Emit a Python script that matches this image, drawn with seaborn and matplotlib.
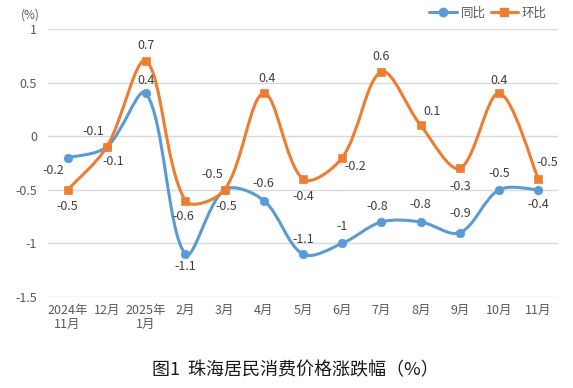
import numpy as np
import pandas as pd
import seaborn as sns
import matplotlib.pyplot as plt
from matplotlib.path import Path
from matplotlib.patches import PathPatch
from matplotlib.lines import Line2D

# data
months = ['2024年\n11月', '12月', '2025年\n1月', '2月', '3月', '4月', '5月',
          '6月', '7月', '8月', '9月', '10月', '11月']
yoy = [-0.2, -0.1, 0.4, -1.1, -0.5, -0.6, -1.1, -1.0, -0.8, -0.8, -0.9, -0.5, -0.5]
mom = [-0.5, -0.1, 0.7, -0.6, -0.5, 0.4, -0.4, -0.2, 0.6, 0.1, -0.3, 0.4, -0.4]
# label texts as printed on the chart
yoy_labels = ['-0.2', '-0.1', '0.4', '-1.1', '-0.5', '-0.6', '-1.1', '-1',
              '-0.8', '-0.8', '-0.9', '-0.5', '-0.4']
mom_labels = ['-0.5', '-0.1', '0.7', '-0.6', '-0.5', '0.4', '-0.4', '-0.2',
              '0.6', '0.1', '-0.3', '0.4', '-0.5']

# label offsets in pixels (dx, dy; dy positive = up)
yoy_off = [(-14, -13), (-14, 15), (0, 13), (0, -12), (-12, 15), (0, 17), (0, 15),
           (0, 17), (-4, 15), (0, 17), (0, 19), (0, 16), (0, -15)]
mom_off = [(0, -17), (6, -15), (0, 16), (-2, -16), (2, -17), (3, 15), (0, -17),
           (13, -9), (0, 15), (11, 14), (0, -18), (0, 13), (9, 17)]

blue = '#5B9BD5'
orange = '#ED7D31'

sns.set_theme(style='white')
plt.rcParams['font.family'] = ['Noto Sans CJK SC', 'DejaVu Sans']

df = pd.DataFrame({'x': np.arange(len(months)), 'yoy': yoy, 'mom': mom})

fig = plt.figure(figsize=(5.73, 3.88), dpi=100)
ax = fig.add_axes([48 / 573, 1 - 297 / 388, 510 / 573, 268 / 388])

# pixel size of one data unit, used to weigh the tangents
sx, sy = 510 / 13, 268 / 2.5


def smooth_path(xs, ys):
    # cubic bezier through the points, tangents scaled by segment lengths
    n = len(xs)
    seg = [np.hypot((xs[i + 1] - xs[i]) * sx, (ys[i + 1] - ys[i]) * sy) for i in range(n - 1)]
    tx, ty, kin, kout = [], [], [], []
    for i in range(n):
        a = max(i - 1, 0)
        d = min(i + 1, n - 1)
        tx.append((xs[d] - xs[a]) / 6)
        ty.append((ys[d] - ys[a]) / 6)
        if 0 < i < n - 1:
            l0, l1 = seg[i - 1], seg[i]
            kin.append(2 * l0 / (l0 + l1))
            kout.append(2 * l1 / (l0 + l1))
        else:
            kin.append(1.0)
            kout.append(1.0)
    verts = [(xs[0], ys[0])]
    codes = [Path.MOVETO]
    for i in range(n - 1):
        c1 = (xs[i] + tx[i] * kout[i], ys[i] + ty[i] * kout[i])
        c2 = (xs[i + 1] - tx[i + 1] * kin[i + 1], ys[i + 1] - ty[i + 1] * kin[i + 1])
        verts += [c1, c2, (xs[i + 1], ys[i + 1])]
        codes += [Path.CURVE4] * 3
    return Path(verts, codes)


for col, color, z in [('yoy', blue, 3), ('mom', orange, 5)]:
    ax.add_patch(PathPatch(smooth_path(df['x'].values, df[col].values),
                           facecolor='none', edgecolor=color, lw=2.2,
                           capstyle='round', zorder=z))

sns.scatterplot(data=df, x='x', y='yoy', ax=ax, color=blue, marker='o', s=38,
                edgecolor=blue, zorder=4)
sns.scatterplot(data=df, x='x', y='mom', ax=ax, color=orange, marker='s', s=36,
                edgecolor=orange, zorder=6)

px = 0.72  # pixel -> point at 100 dpi
for i in range(len(months)):
    ax.annotate(yoy_labels[i], (i, yoy[i]), xytext=(yoy_off[i][0] * px, yoy_off[i][1] * px),
                textcoords='offset points', ha='center', va='center',
                fontsize=9, color='#404040', zorder=8)
    ax.annotate(mom_labels[i], (i, mom[i]), xytext=(mom_off[i][0] * px, mom_off[i][1] * px),
                textcoords='offset points', ha='center', va='center',
                fontsize=9, color='#404040', zorder=8)

ax.set_xlim(-0.5, len(months) - 0.5)
ax.set_ylim(-1.5, 1)
ax.set_yticks([-1.5, -1, -0.5, 0, 0.5, 1])
ax.set_yticklabels(['-1.5', '-1', '-0.5', '0', '0.5', '1'])
ax.set_xticks(range(len(months)))
ax.set_xticklabels(months, linespacing=1.1)
ax.tick_params(axis='both', length=0, labelsize=9, labelcolor='#595959')
ax.tick_params(axis='y', pad=8)
ax.tick_params(axis='x', pad=5)
ax.grid(axis='y', color='#d9d9d9', lw=1)
ax.set_axisbelow(True)
for s in ax.spines.values():
    s.set_visible(False)
ax.set_xlabel('')
ax.set_ylabel('')

fig.text(30 / 573, 1 - 15 / 388, '(%)', fontsize=8.5, color='#595959', ha='center', va='center')

handles = [Line2D([], [], color=blue, lw=2.2, marker='o', markersize=6),
           Line2D([], [], color=orange, lw=2.2, marker='s', markersize=6)]
leg = fig.legend(handles, ['同比', '环比'], loc='center right', ncol=2,
                 bbox_to_anchor=(553 / 573, 1 - 13 / 388), frameon=False,
                 fontsize=9, handlelength=2.2, columnspacing=0.4, handletextpad=0.3,
                 borderpad=0)
for t in leg.get_texts():
    t.set_color('#595959')

fig.text(295 / 573, 1 - 370 / 388, '图1  珠海居民消费价格涨跌幅（%）', fontsize=13,
         color='#1a1a1a', ha='center', va='center')

fig.savefig('out.png', dpi=100)
